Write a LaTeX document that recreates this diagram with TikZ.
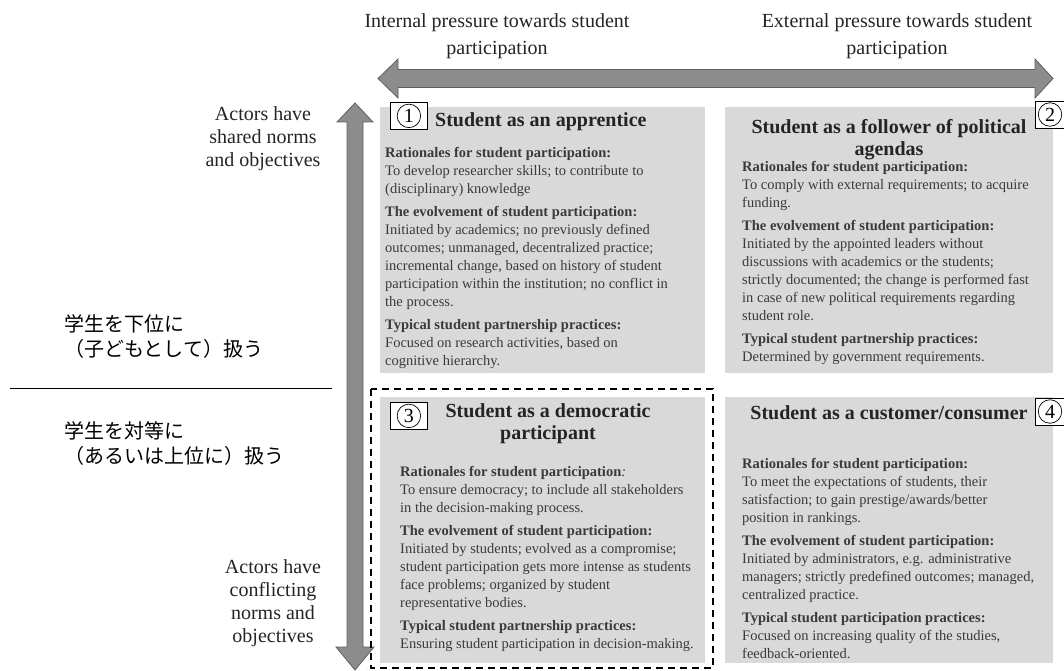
\documentclass[tikz,border=0pt]{standalone}
\usepackage{fontspec}
\setmainfont{Liberation Serif}
\newfontfamily\jpfont{Noto Sans CJK JP}
\definecolor{boxgray}{RGB}{217,217,217}
\definecolor{arrowfill}{RGB}{140,140,140}
\definecolor{arrowline}{RGB}{95,95,95}
\definecolor{bodytext}{RGB}{58,58,58}
\definecolor{headtext}{RGB}{36,36,36}
\begin{document}
\begin{tikzpicture}[x=1pt,y=-1pt,
  quad/.style={fill=boxgray, draw=none, anchor=north west, inner sep=0pt},
  numbox/.style={draw=black, fill=white, line width=0.8pt, anchor=north west, inner sep=0pt,
    minimum width=37pt, minimum height=27pt},
  numcirc/.style={circle, draw=black, line width=0.7pt, inner sep=0pt, minimum size=23.5pt,
    font=\fontsize{20}{20}\selectfont},
  body/.style={anchor=north west, inner sep=0pt, align=left, text=bodytext,
    font=\fontsize{14.5}{18}\selectfont},
  qtitle/.style={inner sep=0pt, text=headtext, font=\bfseries\fontsize{20}{22}\selectfont},
  axislabel/.style={inner sep=0pt, align=center, text=headtext, font=\fontsize{20}{27}\selectfont},
  sidelabel/.style={inner sep=0pt, align=center, text=headtext, font=\fontsize{20}{23}\selectfont},
  jplabel/.style={inner sep=0pt, anchor=west, align=left, text=black, font=\jpfont\fontsize{20}{25}\selectfont},
  bigarrow/.style={fill=arrowfill, draw=arrowline, line width=0.8pt, line join=miter}
]
\useasboundingbox (0,0) rectangle (1064,671);

% axis labels
\node[axislabel] (internal) at (497,36) {Internal pressure towards student\\participation};
\node[axislabel] (external) at (897,36) {External pressure towards student\\participation};

% horizontal double arrow
\draw[bigarrow] (378,78.5) -- (398,59) -- (398,69.5) -- (1035,69.5) -- (1035,59) -- (1053,78.5)
  -- (1035,98) -- (1035,87.5) -- (398,87.5) -- (398,98) -- cycle;

% vertical double arrow
\draw[bigarrow] (355,103) -- (373,122) -- (363,122) -- (363,647) -- (374,647) -- (355,670)
  -- (336,647) -- (347,647) -- (347,122) -- (337,122) -- cycle;

% side labels
\node[sidelabel] (shared) at (263,139) {Actors have\\shared norms\\and objectives};
\node[sidelabel] (conflict) at (273,603) {Actors have\\conflicting\\norms and\\objectives};
\node[jplabel] (lower) at (64,337) {学生を下位に\\（子どもとして）扱う};
\node[jplabel] (equal) at (64,444) {学生を対等に\\（あるいは上位に）扱う};
\draw[line width=1.1pt] (10,388.5) -- (332,388.5);

% quadrant backgrounds
\node[quad, minimum width=325pt, minimum height=266pt] (q1) at (380,107) {};
\node[quad, minimum width=328pt, minimum height=266pt] (q2) at (725,107) {};
\node[quad, minimum width=325pt, minimum height=266pt] (q3) at (380,397) {};
\node[quad, minimum width=328pt, minimum height=266pt] (q4) at (725,397) {};

% dashed frame round quadrant 3
\draw[line width=1.8pt, dash pattern=on 7pt off 5pt] (371,389) rectangle (713,668);

% numbers
\node[numbox] (n1) at (390,102) {};
\node[numcirc] (c1) at (n1.center) {1};
\node[numbox] (n2) at (1035,101) {};
\node[numcirc] (c2) at (1050,114.5) {2};
\node[numbox] (n3) at (390,402) {};
\node[numcirc] (c3) at (n3.center) {3};
\node[numbox] (n4) at (1035,398) {};
\node[numcirc] (c4) at (1050,411.5) {4};

% quadrant 1
\node[qtitle, anchor=base west] (t1) at (435,127) {Student as an apprentice};
\node[body] (b1) at (385,147) {%
\textbf{Rationales for student participation:}\\
To develop researcher skills; to contribute to\\
(disciplinary) knowledge\\[5pt]
\textbf{The evolvement of student participation:}\\
Initiated by academics; no previously defined\\
outcomes; unmanaged, decentralized practice;\\
incremental change, based on history of student\\
participation within the institution; no conflict in\\
the process.\\[5pt]
\textbf{Typical student partnership practices:}\\
Focused on research activities, based on\\
cognitive hierarchy.};

% quadrant 2
\node[qtitle, align=center, anchor=north] (t2) at (889,119) {Student as a follower of political\\agendas};
\node[body] (b2) at (742,161) {%
\textbf{Rationales for student participation:}\\
To comply with external requirements; to acquire\\
funding.\\[5pt]
\textbf{The evolvement of student participation:}\\
Initiated by the appointed leaders without\\
discussions with academics or the students;\\
strictly documented; the change is performed fast\\
in case of new political requirements regarding\\
student role.\\[5pt]
\textbf{Typical student partnership practices:}\\
Determined by government requirements.};

% quadrant 3
\node[qtitle, align=center, anchor=north] (t3) at (548,403) {Student as a democratic\\participant};
\node[body] (b3) at (400,466) {%
\textbf{Rationales for student participation}\textit{:}\\
To ensure democracy; to include all stakeholders\\
in the decision-making process.\\[5pt]
\textbf{The evolvement of student participation:}\\
Initiated by students; evolved as a compromise;\\
student participation gets more intense as students\\
face problems; organized by student\\
representative bodies.\\[5pt]
\textbf{Typical student partnership practices:}\\
Ensuring student participation in decision-making.};

% quadrant 4
\node[qtitle, anchor=base] (t4) at (889,419) {Student as a customer/consumer};
\node[body] (b4) at (742,458) {%
\textbf{Rationales for student participation:}\\
To meet the expectations of students, their\\
satisfaction; to gain prestige/awards/better\\
position in rankings.\\[5pt]
\textbf{The evolvement of student participation:}\\
Initiated by administrators, e.g. administrative\\
managers; strictly predefined outcomes; managed,\\
centralized practice.\\[5pt]
\textbf{Typical student participation practices:}\\
Focused on increasing quality of the studies,\\
feedback-oriented.};
\end{tikzpicture}
\end{document}
